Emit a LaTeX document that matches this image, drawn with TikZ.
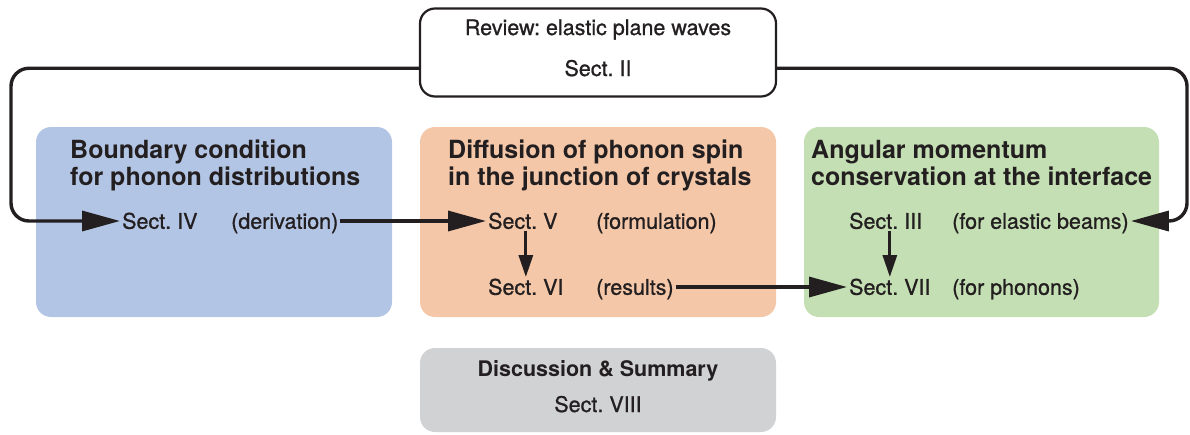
\documentclass[tikz,border=0pt]{standalone}
\usepackage{fontspec}
\setmainfont{TeX Gyre Heros}
\newfontfamily\mediumfont{TeX Gyre Heros}[FakeBold=0.9]
\frenchspacing
\usetikzlibrary{arrows.meta}
\definecolor{ink}{RGB}{35,31,32}
\definecolor{boxblue}{RGB}{179,197,228}
\definecolor{boxorange}{RGB}{244,199,168}
\definecolor{boxgreen}{RGB}{196,223,179}
\definecolor{boxgray}{RGB}{209,210,212}
\begin{document}
\begin{tikzpicture}[x=1pt,y=-1pt,
  box/.style={rounded corners=15pt, minimum width=356pt, inner sep=0pt},
  title/.style={anchor=north west, inner sep=0pt, align=left, text=ink,
    font=\fontsize{25}{27}\bfseries\selectfont},
  sect/.style={anchor=base west, inner sep=2pt, text height=15.5pt, text depth=0pt,
    text=ink, font=\fontsize{21.5}{24}\mediumfont},
  label/.style={anchor=base, inner sep=2pt, text height=15.5pt, text depth=0pt,
    text=ink, font=\fontsize{21.5}{24}\mediumfont},
  bigarrow/.style={draw=ink, line width=3.4pt, -{Triangle[length=38pt,width=20pt]}},
  smallarrow/.style={draw=ink, line width=3pt, -{Triangle[length=22pt,width=14pt]}}
]
\useasboundingbox (0,0) rectangle (1190,434);

% coloured section boxes
\node[box, fill=boxblue, minimum height=190pt] (blue) at (214,222) {};
\node[box, fill=boxorange, minimum height=190pt] (orange) at (598,222) {};
\node[box, fill=boxgreen, minimum height=190pt, minimum width=355pt] (green) at (981.5,222) {};
\node[box, fill=boxgray, minimum height=84pt] (gray) at (598,390) {};
\node[box, draw=ink, line width=2.2pt, fill=white, minimum height=88pt] (top) at (598,52.5) {};

% review box
\node[label] (review) at (598,35) {Review: elastic plane waves};
\node[label] (sII) at (598,76) {Sect. II};

% box titles
\node[title] (tblue) at (70,140) {Boundary condition\\for phonon distributions};
\node[title] (torange) at (448,140) {Diffusion of phonon spin\\in the junction of crystals};
\node[title] (tgreen) at (811,140) {Angular momentum\\conservation at the interface};

% summary box
\node[label, font=\fontsize{21.5}{24}\bfseries\selectfont] (disc) at (598,376) {Discussion \& Summary};
\node[label] (sVIII) at (598,412) {Sect. VIII};

% section entries
\node[sect] (sIV) at (120,228.75) {Sect. IV};
\node[sect] (dIV) at (229,228.75) {(derivation)};
\node[sect] (sV) at (486,228.75) {Sect. V};
\node[sect] (fV) at (594,228.75) {(formulation)};
\node[sect] (sVI) at (486,294.75) {Sect. VI};
\node[sect] (rVI) at (594,294.75) {(results)};
\node[sect] (sIII) at (847,228.75) {Sect. III};
\node[sect] (bIII) at (950,228.75) {(for elastic beams)};
\node[sect] (sVII) at (847,294.75) {Sect. VII};
\node[sect] (pVII) at (950,294.75) {(for phonons)};

% loops leaving the review box
\coordinate (lloop) at (11,150);
\coordinate (rloop) at (1187,150);
\draw[bigarrow, rounded corners=18pt] (top.west |- sII) -| (lloop) |- (sIV.west);
\draw[bigarrow, rounded corners=18pt] (top.east |- sII) -| (rloop) |- (bIII.east);

% links between sections
\draw[bigarrow] (dIV.east) -- (sV.west);
\draw[bigarrow] (rVI.east) -- (sVII.west);
\draw[smallarrow] (sVI.north |- sV.south) -- (sVI.north);
\draw[smallarrow] (sVII.north |- sIII.south) -- (sVII.north);
\end{tikzpicture}
\end{document}
